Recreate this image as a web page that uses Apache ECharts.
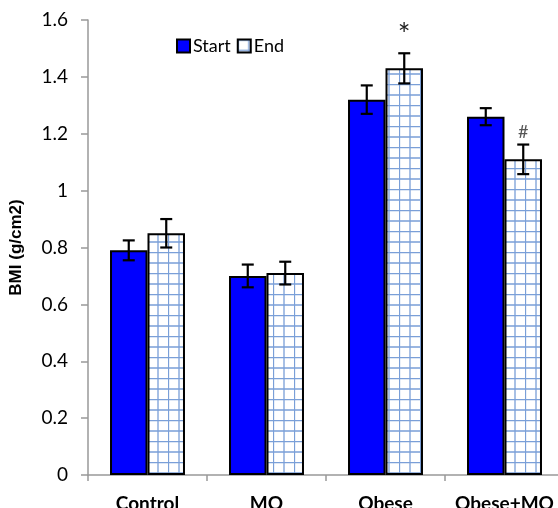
<!DOCTYPE html>
<html>
<head>
<meta charset="utf-8">
<script src="https://cdn.jsdelivr.net/npm/echarts@6/dist/echarts.min.js"></script>
<style>html,body{margin:0;padding:0;background:#fff;}#c{width:558px;height:508px;}</style>
</head>
<body>
<div id="c"></div>
<script>
var categories = ['Control', 'MO', 'Obese', 'Obese+MO'];
var startValues = [0.79, 0.70, 1.32, 1.26];
var startErrors = [0.035, 0.04, 0.05, 0.03];
var endValues = [0.85, 0.71, 1.43, 1.11];
var endErrors = [0.05, 0.04, 0.053, 0.052];
var annotations = ['', '', '*', '#'];
var yTicks = [0, 0.2, 0.4, 0.6, 0.8, 1, 1.2, 1.4, 1.6];

var FONT = 'Lato';
var pc = document.createElement('canvas');
pc.width = 21; pc.height = 21;
var g = pc.getContext('2d');
g.fillStyle = '#ffffff'; g.fillRect(0, 0, 21, 21);
g.strokeStyle = '#7a9fd8'; g.lineWidth = 1.3;
g.beginPath();
[0.5, 11].forEach(function (p) {
  g.moveTo(p, 0); g.lineTo(p, 21); g.moveTo(0, p); g.lineTo(21, p);
});
g.stroke();

var chart = echarts.init(document.getElementById('c'), null, {renderer: 'canvas'});

function errSeries(vals, errs, side, withAnno) {
  return {
    type: 'custom',
    silent: true,
    z: 10,
    data: vals.map(function (v, i) { return [i, v, errs[i]]; }),
    renderItem: function (params, api) {
      var i = api.value(0), v = api.value(1), e = api.value(2);
      var band = api.size([1, 0])[0];
      var off = band * 0.1575 * side;
      var top = api.coord([i, v + e]);
      var bot = api.coord([i, v - e]);
      var x = top[0] + off;
      var cap = 6;
      var st = {stroke: '#000', lineWidth: 2.2};
      var children = [
        {type: 'line', shape: {x1: x, y1: top[1], x2: x, y2: bot[1]}, style: st},
        {type: 'line', shape: {x1: x - cap, y1: top[1], x2: x + cap, y2: top[1]}, style: st},
        {type: 'line', shape: {x1: x - cap, y1: bot[1], x2: x + cap, y2: bot[1]}, style: st}
      ];
      if (withAnno && annotations[i]) {
        var isStar = annotations[i] === '*';
        children.push({
          type: 'text',
          style: {
            text: annotations[i], x: x, y: top[1] - 3,
            align: 'center', verticalAlign: 'bottom',
            font: (isStar ? '30px ' : '18px ') + FONT, fill: isStar ? '#222' : '#555'
          }
        });
      }
      return {type: 'group', children: children};
    }
  };
}

chart.setOption({
  animation: false,
  backgroundColor: '#fff',
  grid: {left: 88, top: 20, bottom: 33, right: -6, containLabel: false, outerBoundsMode: 'none'},
  legend: {
    left: 171, top: 32, itemWidth: 13, itemHeight: 13, itemGap: 6,
    icon: 'rect',
    textStyle: {fontFamily: FONT, fontSize: 18, color: '#000', padding: [0, 0, 0, -2]},
    data: ['Start', 'End']
  },
  xAxis: {
    type: 'category', data: categories,
    axisLine: {lineStyle: {color: '#999', width: 1.5}},
    axisTick: {show: true, length: 6, lineStyle: {color: '#999', width: 1.5}},
    axisLabel: {fontFamily: FONT, fontSize: 19, fontWeight: 'bold', color: '#000', margin: 19,
      interval: 0, hideOverlap: false}
  },
  yAxis: {
    type: 'value', min: 0, max: 1.6, interval: 0.2,
    name: 'BMI (g/cm2)', nameLocation: 'middle', nameGap: 63, nameRotate: 90,
    nameTextStyle: {fontFamily: 'Liberation Sans', fontSize: 17, fontWeight: 'bold', color: '#000'},
    axisLine: {show: true, lineStyle: {color: '#999', width: 1.5}},
    axisTick: {show: true, length: 7, lineStyle: {color: '#999', width: 1.5}},
    splitLine: {show: false},
    axisLabel: {fontFamily: FONT, fontSize: 19, color: '#000', margin: 20,
      formatter: function (v) { return String(yTicks[Math.round(v / 0.2)]); }}
  },
  series: [
    {name: 'Start', type: 'bar', data: startValues, barWidth: '31.5%', barGap: '0%',
      itemStyle: {color: '#0000ff', borderColor: '#000', borderWidth: 2}},
    {name: 'End', type: 'bar', data: endValues, barWidth: '31.5%', barGap: '0%',
      itemStyle: {color: {image: pc, repeat: 'repeat'}, borderColor: '#000', borderWidth: 2}},
    errSeries(startValues, startErrors, -1, false),
    errSeries(endValues, endErrors, 1, true)
  ]
});
</script>
</body>
</html>
